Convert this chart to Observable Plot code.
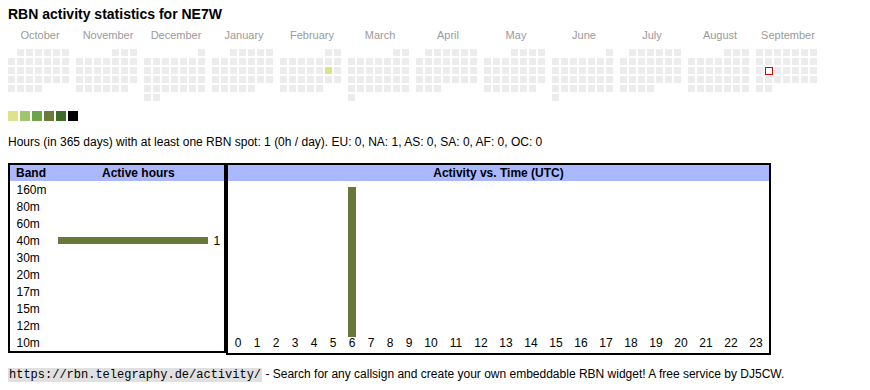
<!DOCTYPE html>
<html><head><meta charset="utf-8">
<script src="https://cdn.jsdelivr.net/npm/d3@7"></script>
<script src="https://cdn.jsdelivr.net/npm/@observablehq/plot@0.6"></script>
<style>
body{margin:0;background:#fff;font-family:"Liberation Sans",Arial,sans-serif;color:#000;}
#root{position:relative;width:870px;height:390px;overflow:hidden;}
.abs{position:absolute;}
#title{left:8px;top:6px;font-size:14px;font-weight:bold;line-height:16px;white-space:nowrap;}
#summary{left:8px;top:135px;font-size:12px;line-height:14px;white-space:nowrap;}
.box{position:absolute;border:2px solid #000;box-sizing:border-box;}
.hdr{position:absolute;left:0;top:0;right:0;height:16px;background:#aab9ff;font-weight:bold;font-size:12px;line-height:16px;white-space:nowrap;}
.plotwrap{position:absolute;left:0;top:16px;}
#footer{left:8px;top:367px;font-size:12px;line-height:14px;white-space:nowrap;}
#footer code{font-family:"Liberation Mono",monospace;font-size:12px;background:#e0e0e0;padding:0 1px;}
svg{display:block;}
</style></head><body><div id="root">
<div id="title" class="abs">RBN activity statistics for NE7W</div>
<div id="cal" class="abs" style="left:0;top:0;"></div>
<div id="legend" class="abs" style="left:8px;top:111px;"></div>
<div id="summary" class="abs">Hours (in 365 days) with at least one RBN spot: 1 (0h / day). EU: 0, NA: 1, AS: 0, SA: 0, AF: 0, OC: 0</div>
<div class="box" style="left:8px;top:163px;width:218px;height:190px;">
  <div class="hdr"><span style="position:absolute;left:6px;">Band</span><span style="position:absolute;left:92px;">Active hours</span></div>
  <div class="plotwrap" id="bandplot"></div>
</div>
<div class="box" style="left:226px;top:163px;width:545px;height:192px;">
  <div class="hdr" style="text-align:center;">Activity vs. Time (UTC)</div>
  <div class="plotwrap" id="hourplot"></div>
</div>
<div id="footer" class="abs"><code>https://rbn.telegraphy.de/activity/</code> - Search for any callsign and create your own embeddable RBN widget! A free service by DJ5CW.</div>
</div>
<script>
// ---- data ----
const months = ["October","November","December","January","February","March","April","May","June","July","August","September"];
const activeDates = ["2025-02-15"];
const activeDateHours = [1];
const today = "2025-09-16";
const levelThresholds = [1, 3, 6, 9, 12, 18];
const levelColors = ["#dde38c", "#9fc56d", "#6ba545", "#677b3b", "#3e6b29", "#000000"];
const emptyColor = "#ececec";
const bands = ["160m","80m","60m","40m","30m","20m","17m","15m","12m","10m"];
const bandHours = [0, 0, 0, 1, 0, 0, 0, 0, 0, 0];
const hours = ["0","1","2","3","4","5","6","7","8","9","10","11","12","13","14","15","16","17","18","19","20","21","22","23"];
const hourCounts = [0,0,0,0,0,0,1,0,0,0,0,0,0,0,0,0,0,0,0,0,0,0,0,0];
const barColor = "#66793a";
const font = "'Liberation Sans', Arial, sans-serif";

// ---- calendar ----
const fmt = d3.utcFormat("%Y-%m-%d");
const days = d3.utcDay.range(new Date(Date.UTC(2024, 9, 1)), new Date(Date.UTC(2025, 9, 1))).map(d => {
  const first = new Date(Date.UTC(d.getUTCFullYear(), d.getUTCMonth(), 1));
  const off = (first.getUTCDay() + 6) % 7;
  const key = fmt(d);
  const i = activeDates.indexOf(key);
  return {key, month: months[(d.getUTCMonth() + 3) % 12], dow: (d.getUTCDay() + 6) % 7,
          week: Math.floor((d.getUTCDate() - 1 + off) / 7), hours: i >= 0 ? activeDateHours[i] : 0};
});
const colorScale = {type: "threshold", domain: levelThresholds, range: [emptyColor, ...levelColors]};

document.getElementById("cal").append(Plot.plot({
  width: 870, height: 110, marginTop: 49, marginLeft: 8, marginRight: 51, marginBottom: 7,
  style: {fontFamily: font, fontSize: "11px", background: "transparent"},
  fx: {domain: months, paddingInner: 5 / 68, paddingOuter: 0, axis: null},
  x: {domain: d3.range(7), padding: 0, axis: null},
  y: {domain: d3.range(6), padding: 0, axis: null},
  color: colorScale,
  marks: [
    Plot.cell(days, {fx: "month", x: "dow", y: "week", fill: "hours", insetRight: 2, insetBottom: 2}),
    Plot.cell(days.filter(d => d.key === today), {fx: "month", x: "dow", y: "week", fill: "white", stroke: "#e00000", strokeWidth: 1,
      insetLeft: 0.5, insetTop: 0.5, insetRight: 1.5, insetBottom: 1.5}),
    Plot.text(months, {fx: d => d, text: d => d, frameAnchor: "top", dy: -18, fill: "#9a9a9a", fontSize: 11})
  ]
}));

document.getElementById("legend").append(Plot.plot({
  width: 72, height: 10, margin: 0,
  style: {background: "transparent"},
  x: {domain: levelThresholds, padding: 0, axis: null},
  color: colorScale,
  marks: [Plot.cell(levelThresholds, {x: d => d, fill: d => d, insetRight: 2})]
}));

// ---- band plot ----
const bandRows = bands.map((b, i) => ({band: b, hours: bandHours[i]}));
document.getElementById("bandplot").append(Plot.plot({
  width: 214, height: 170, marginLeft: 48, marginRight: 16, marginTop: 0, marginBottom: 0,
  style: {fontFamily: font, fontSize: "12px", background: "transparent"},
  x: {domain: [0, d3.max(bandHours)], axis: null},
  y: {domain: bands, padding: 0, label: null},
  marks: [
    Plot.barX(bandRows.filter(d => d.hours > 0), {x: "hours", y: "band", fill: barColor, insetTop: 5, insetBottom: 5}),
    Plot.text(bandRows.filter(d => d.hours > 0), {x: "hours", y: "band", text: d => String(d.hours), textAnchor: "start", dx: 5, fill: "#000"}),
    Plot.axisY({tickSize: 0, tickPadding: 42, textAnchor: "start", label: null, fill: "#000", fontSize: 12})
  ]
}));

// ---- hour plot (column widths follow label length, like the table cells) ----
const widths = hours.map(h => 6 * h.length + 13);
let acc = 0;
const hourRows = hours.map((h, i) => { const c = acc + widths[i] / 2; acc += widths[i]; return {label: h, center: c, count: hourCounts[i]}; });
document.getElementById("hourplot").append(Plot.plot({
  width: 541, height: 172, marginLeft: 0, marginRight: 541 - acc, marginTop: 6, marginBottom: 16,
  style: {fontFamily: font, fontSize: "12px", background: "transparent"},
  x: {domain: [0, acc], axis: null},
  y: {domain: [0, d3.max(hourCounts)], axis: null},
  marks: [
    Plot.ruleX(hourRows.filter(d => d.count > 0), {x: "center", y1: 0, y2: "count", stroke: barColor, strokeWidth: 8}),
    Plot.text(hourRows, {x: "center", text: "label", frameAnchor: "bottom", dy: 9, fill: "#000", fontSize: 12})
  ]
}));
</script>
</body></html>
